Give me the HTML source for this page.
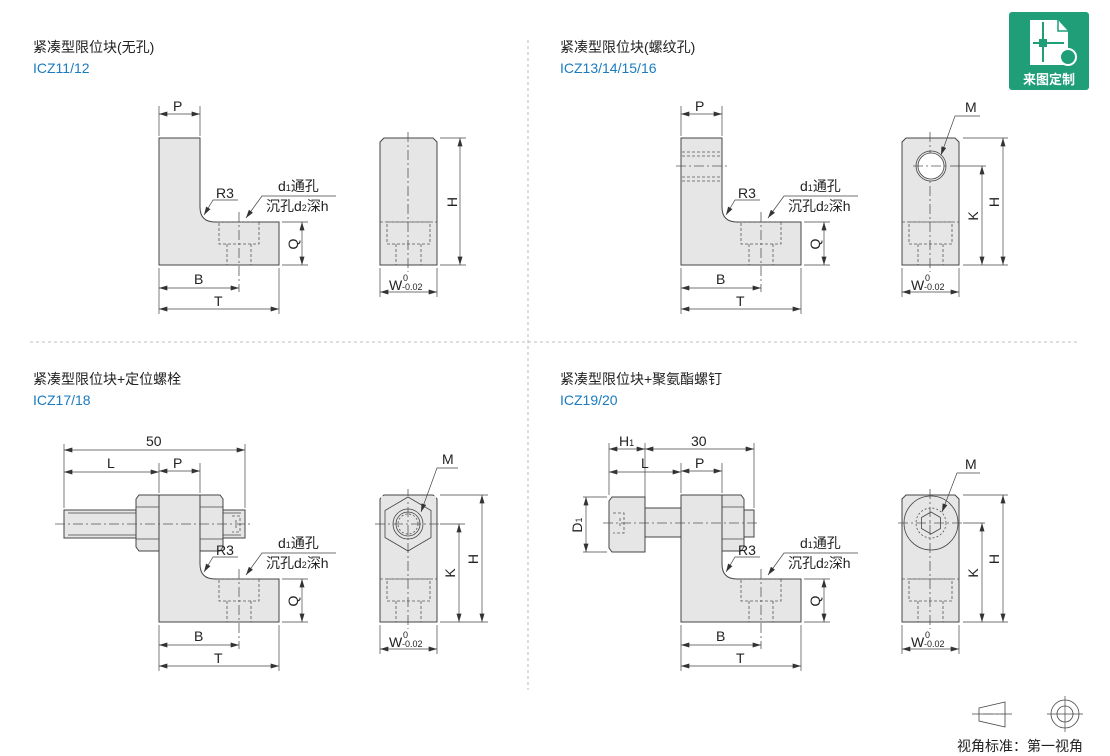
<!DOCTYPE html>
<html><head><meta charset="utf-8"><style>
html,body{margin:0;padding:0;background:#fff;}
svg{display:block;font-family:"Liberation Sans","Noto Sans CJK SC",sans-serif;}
.o{fill:#e6e6e6;stroke:#444;stroke-width:1}
.l{stroke:#444;stroke-width:0.8;fill:none}
.d{stroke:#555;stroke-width:0.8;fill:none;stroke-dasharray:3 2}
.c{stroke:#555;stroke-width:0.8;fill:none;stroke-dasharray:10 3 2 3}
.dm{stroke:#444;stroke-width:0.7;fill:none}
.a{stroke:#444;stroke-width:0.7;fill:none;marker-start:url(#ar);marker-end:url(#ar)}
.t{font-size:14px;fill:#222}
.s{font-size:13px;fill:#222}
</style></head><body>
<svg width="1110" height="756" viewBox="0 0 1110 756" xmlns="http://www.w3.org/2000/svg">
<defs>
<marker id="ar" viewBox="0 0 10 6" refX="10" refY="3" markerWidth="9" markerHeight="5" orient="auto-start-reverse" markerUnits="userSpaceOnUse"><path d="M0 0L10 3L0 6Z" fill="#333"/></marker>
<g id="front">
<path class="o" d="M159 138H200V207Q200 222 215 222H279V265H159Z"/>
<rect class="d" x="219" y="222" width="40" height="22"/>
<line class="d" x1="227" y1="244" x2="227" y2="265"/><line class="d" x1="251" y1="244" x2="251" y2="265"/>
<line class="c" x1="239" y1="212" x2="239" y2="292"/>
<line class="dm" x1="159" y1="106" x2="159" y2="136"/><line class="dm" x1="200" y1="106" x2="200" y2="136"/>
<line class="dm" x1="159" y1="268" x2="159" y2="314"/><line class="dm" x1="279" y1="268" x2="279" y2="314"/>
<line class="dm" x1="282" y1="222" x2="308" y2="222"/><line class="dm" x1="282" y1="265" x2="308" y2="265"/>
<line class="a" x1="159" y1="114" x2="200" y2="114"/><text class="t" x="173" y="111">P</text>
<line class="a" x1="159" y1="288" x2="239" y2="288"/><text class="t" x="194" y="284">B</text>
<line class="a" x1="159" y1="309" x2="279" y2="309"/><text class="t" x="214" y="306">T</text>
<line class="a" x1="302" y1="222" x2="302" y2="265"/><text class="t" transform="translate(298,244) rotate(-90)" text-anchor="middle">Q</text>
<path class="dm" d="M238 200H213L204 215" marker-end="url(#ar)"/><text class="t" x="216" y="198">R3</text>
<path class="dm" d="M336 196H262L246 218" marker-end="url(#ar)"/>
<text class="t" x="278" y="191">d<tspan font-size="9">1</tspan>通孔</text>
<text class="t" x="266" y="211">沉孔d<tspan font-size="9">2</tspan>深h</text>
</g>
<g id="side">
<path class="o" d="M384 138H433L437 142V265H380V142Z"/>
<line class="d" x1="380" y1="222" x2="437" y2="222"/>
<rect class="d" x="387" y="222" width="43" height="22"/>
<line class="d" x1="396" y1="244" x2="396" y2="265"/><line class="d" x1="421" y1="244" x2="421" y2="265"/>
<line class="c" x1="408" y1="132" x2="408" y2="272"/>
<line class="dm" x1="380" y1="268" x2="380" y2="297"/><line class="dm" x1="437" y1="268" x2="437" y2="297"/>
<line class="a" x1="380" y1="292" x2="437" y2="292"/>
<text class="t" x="389" y="290">W</text><text x="403" y="281" font-size="9" fill="#222">0</text><text x="402" y="290" font-size="9" fill="#222">-0.02</text>
</g>
</defs>

<!-- separators -->
<line x1="528" y1="40" x2="528" y2="690" stroke="#aaa" stroke-width="0.8" stroke-dasharray="3 3"/>
<line x1="30" y1="342" x2="1080" y2="342" stroke="#aaa" stroke-width="0.8" stroke-dasharray="3 3"/>

<!-- titles -->
<text class="t" x="33" y="52" fill="#333">紧凑型限位块(无孔)</text>
<text x="33" y="73" font-size="14" fill="#1a7bbf">ICZ11/12</text>
<text class="t" x="560" y="52">紧凑型限位块(螺纹孔)</text>
<text x="560" y="73" font-size="14" fill="#1a7bbf">ICZ13/14/15/16</text>
<text class="t" x="33" y="384">紧凑型限位块+定位螺栓</text>
<text x="33" y="405" font-size="14" fill="#1a7bbf">ICZ17/18</text>
<text class="t" x="560" y="384">紧凑型限位块+聚氨酯螺钉</text>
<text x="560" y="405" font-size="14" fill="#1a7bbf">ICZ19/20</text>

<!-- Q1 -->
<use href="#front"/><use href="#side"/>
<line class="dm" x1="440" y1="138" x2="466" y2="138"/><line class="dm" x1="440" y1="265" x2="466" y2="265"/>
<line class="a" x1="460" y1="138" x2="460" y2="265"/>
<text class="t" transform="translate(457,202) rotate(-90)" text-anchor="middle">H</text>

<!-- Q2 -->
<use href="#front" transform="translate(522,0)"/><use href="#side" transform="translate(522,0)"/>
<g class="d"><line x1="682" y1="152" x2="721" y2="152"/><line x1="682" y1="156" x2="721" y2="156"/><line x1="682" y1="177" x2="721" y2="177"/><line x1="682" y1="181" x2="721" y2="181"/></g>
<line class="c" x1="676" y1="166" x2="727" y2="166"/>
<circle cx="931" cy="166" r="15" fill="none" stroke="#444" stroke-width="0.8"/>
<circle cx="931" cy="166" r="13" fill="#fff" stroke="#444" stroke-width="0.8"/>
<line class="c" x1="913" y1="166" x2="948" y2="166"/>
<line class="dm" x1="950" y1="166" x2="986" y2="166"/>
<line class="dm" x1="963" y1="138" x2="1008" y2="138"/><line class="dm" x1="963" y1="265" x2="1008" y2="265"/>
<line class="a" x1="982" y1="166" x2="982" y2="265"/>
<line class="a" x1="1003" y1="138" x2="1003" y2="265"/>
<text class="t" transform="translate(978,216) rotate(-90)" text-anchor="middle">K</text>
<text class="t" transform="translate(999,202) rotate(-90)" text-anchor="middle">H</text>
<path class="dm" d="M980 116H955L941 155" marker-end="url(#ar)"/><text class="t" x="965" y="112">M</text>

<!-- Q3 -->
<rect class="o" x="64" y="510" width="181" height="28"/>
<line class="l" x1="68" y1="513" x2="241" y2="513"/><line class="l" x1="68" y1="535" x2="241" y2="535"/>
<path class="o" d="M139 495H159V551H139L136 547V499Z"/>
<line class="l" x1="136" y1="507" x2="159" y2="507"/><line class="l" x1="136" y1="539" x2="159" y2="539"/>
<path class="o" d="M200 495H220L223 499V547L220 551H200Z"/>
<line class="l" x1="200" y1="507" x2="223" y2="507"/><line class="l" x1="200" y1="539" x2="223" y2="539"/>
<use href="#front" transform="translate(0,357)"/>
<rect x="159.5" y="495.5" width="40" height="60" fill="#e6e6e6" stroke="none"/>
<path class="l" d="M159 495H200V551"/>
<path class="d" d="M232 516H240V532H232M236 520V528"/>
<line class="c" x1="55" y1="524" x2="252" y2="524"/>
<line class="dm" x1="64" y1="444" x2="64" y2="508"/><line class="dm" x1="245" y1="444" x2="245" y2="508"/>
<line class="a" x1="64" y1="450" x2="245" y2="450"/><text class="t" x="146" y="446">50</text>
<line class="a" x1="64" y1="472" x2="159" y2="472"/><text class="t" x="107" y="468">L</text>
<use href="#side" transform="translate(0,357)"/>
<rect x="381" y="496" width="55" height="4" fill="#e6e6e6"/>
<polygon points="408,497 431,510.5 431,537.5 408,551 385,537.5 385,510.5" fill="none" stroke="#444" stroke-width="0.8"/>
<circle cx="408" cy="524" r="15" fill="none" stroke="#444" stroke-width="0.8"/>
<circle cx="408" cy="524" r="12" fill="none" stroke="#444" stroke-width="0.8"/>
<circle cx="408" cy="524" r="10" fill="none" stroke="#555" stroke-width="0.8" stroke-dasharray="2 2"/>
<line class="c" x1="375" y1="524" x2="440" y2="524"/>
<line class="dm" x1="440" y1="524" x2="465" y2="524"/>
<line class="dm" x1="440" y1="495" x2="488" y2="495"/><line class="dm" x1="440" y1="622" x2="488" y2="622"/>
<line class="a" x1="459" y1="524" x2="459" y2="622"/>
<line class="a" x1="482" y1="495" x2="482" y2="622"/>
<text class="t" transform="translate(455,573) rotate(-90)" text-anchor="middle">K</text>
<text class="t" transform="translate(478,559) rotate(-90)" text-anchor="middle">H</text>
<path class="dm" d="M458 468H437L421 512" marker-end="url(#ar)"/><text class="t" x="442" y="464">M</text>

<!-- Q4 -->
<rect class="o" x="744" y="510" width="10" height="27"/>
<rect class="o" x="645" y="508" width="36" height="29"/>
<path class="o" d="M721 495H741L744 499V547L741 551H721Z"/>
<line class="l" x1="721" y1="507" x2="744" y2="507"/><line class="l" x1="721" y1="539" x2="744" y2="539"/>
<path class="o" d="M612 497H645V552H612L609 548V501Z"/>
<path class="d" d="M613 513H624V533H613M620 518V528"/>
<use href="#front" transform="translate(522,357)"/>
<line class="c" x1="603" y1="523" x2="760" y2="523"/>
<line class="dm" x1="609" y1="443" x2="609" y2="495"/><line class="dm" x1="645" y1="443" x2="645" y2="506"/><line class="dm" x1="754" y1="443" x2="754" y2="508"/>
<line class="a" x1="609" y1="449" x2="645" y2="449"/><text class="t" x="619" y="446">H<tspan font-size="9">1</tspan></text>
<line class="a" x1="645" y1="449" x2="754" y2="449"/><text class="t" x="691" y="446">30</text>
<line class="a" x1="609" y1="472" x2="681" y2="472"/><text class="t" x="641" y="468">L</text>
<line class="dm" x1="583" y1="497" x2="607" y2="497"/><line class="dm" x1="583" y1="552" x2="607" y2="552"/>
<line class="a" x1="586" y1="497" x2="586" y2="552"/>
<text class="t" transform="translate(582,525) rotate(-90)" text-anchor="middle">D<tspan font-size="9">1</tspan></text>
<use href="#side" transform="translate(522,357)"/>
<circle cx="931" cy="523" r="27" fill="none" stroke="#444" stroke-width="0.8"/>
<circle cx="931" cy="523" r="15" fill="none" stroke="#555" stroke-width="0.8" stroke-dasharray="2 2"/>
<polygon points="931,512 940.5,517.5 940.5,528.5 931,534 921.5,528.5 921.5,517.5" fill="none" stroke="#444" stroke-width="0.8"/>
<line class="c" x1="898" y1="523" x2="963" y2="523"/>
<line class="dm" x1="963" y1="523" x2="985" y2="523"/>
<line class="dm" x1="963" y1="495" x2="1008" y2="495"/><line class="dm" x1="963" y1="622" x2="1008" y2="622"/>
<line class="a" x1="982" y1="523" x2="982" y2="622"/>
<line class="a" x1="1003" y1="495" x2="1003" y2="622"/>
<text class="t" transform="translate(978,573) rotate(-90)" text-anchor="middle">K</text>
<text class="t" transform="translate(999,559) rotate(-90)" text-anchor="middle">H</text>
<path class="dm" d="M980 473H957L942 512" marker-end="url(#ar)"/><text class="t" x="965" y="469">M</text>

<!-- logo -->
<rect x="1009" y="12" width="80" height="78" rx="3" fill="#1f9e78"/>
<path d="M1030 20H1058L1068 31V65H1030Z" fill="#fff"/>
<path d="M1058 20V31H1068" fill="none" stroke="#1f9e78" stroke-width="1.5"/>
<path d="M1043 22V62M1033 43H1064" stroke="#1f9e78" stroke-width="2"/>
<rect x="1039" y="39" width="8" height="8" fill="#1f9e78"/>
<circle cx="1068" cy="57" r="8" fill="#1f9e78" stroke="#fff" stroke-width="2"/>
<text x="1049" y="84" font-size="13" font-weight="bold" fill="#fff" text-anchor="middle">来图定制</text>

<!-- legend -->
<path class="l" d="M979 708L1005 702V727L979 721Z"/>
<line class="dm" x1="972" y1="714" x2="1012" y2="714"/>
<line class="c" x1="983" y1="714" x2="1003" y2="714"/>
<circle cx="1065" cy="714" r="14" fill="none" stroke="#444" stroke-width="0.8"/>
<circle cx="1065" cy="714" r="8" fill="none" stroke="#444" stroke-width="0.8"/>
<line class="dm" x1="1047" y1="714" x2="1083" y2="714"/><line class="dm" x1="1065" y1="696" x2="1065" y2="732"/>
<text class="t" x="957" y="751">视角标准：第一视角</text>
</svg>
</body></html>
